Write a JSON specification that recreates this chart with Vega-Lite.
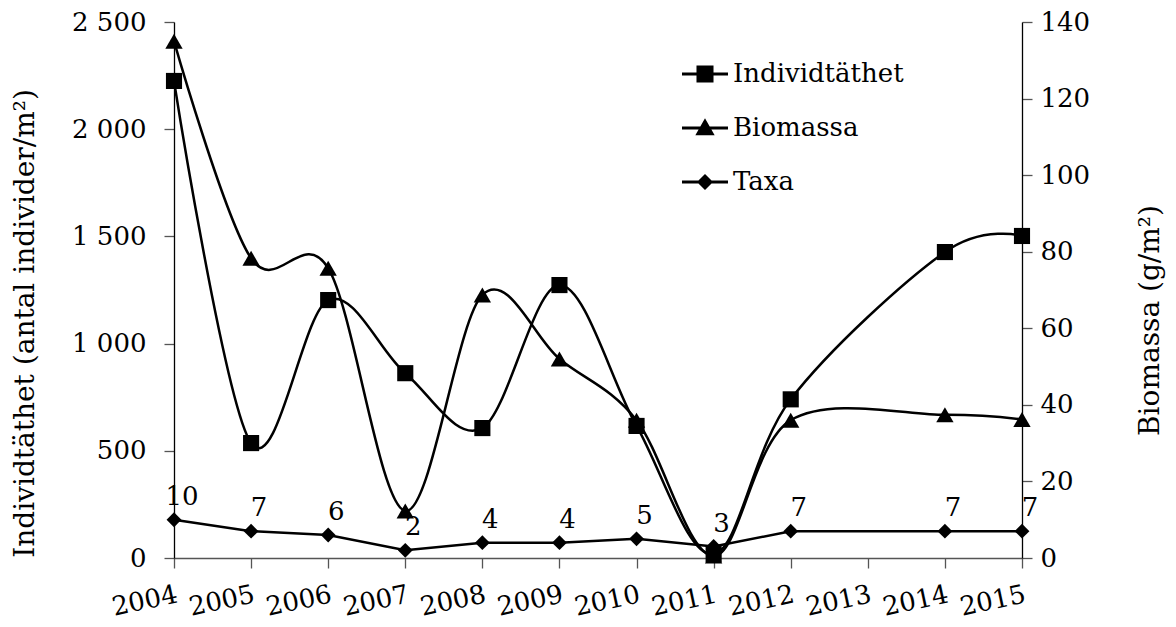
{
  "$schema": "https://vega.github.io/schema/vega-lite/v6.json",
  "width": 848,
  "height": 536,
  "autosize": "none",
  "padding": {"left": 174, "top": 22, "right": 154, "bottom": 69},
  "background": "white",
  "config": {
    "view": {"stroke": null},
    "font": "DejaVu Serif",
    "axis": {"labelFont": "DejaVu Serif", "titleFont": "DejaVu Serif", "labelFontSize": 26, "titleFontSize": 28, "labelColor": "black", "titleColor": "black", "titleFontWeight": "normal", "grid": false, "domainColor": "#555", "tickColor": "#555", "tickSize": 10, "domainWidth": 1.3, "tickWidth": 1.3},
    "legend": {"labelFont": "DejaVu Serif"}
  },
  "data": {
    "values": [
      {"year": 2004, "serie": "Individtäthet", "value": 2225},
      {"year": 2005, "serie": "Individtäthet", "value": 536},
      {"year": 2006, "serie": "Individtäthet", "value": 1203},
      {"year": 2007, "serie": "Individtäthet", "value": 862},
      {"year": 2008, "serie": "Individtäthet", "value": 606},
      {"year": 2009, "serie": "Individtäthet", "value": 1273},
      {"year": 2010, "serie": "Individtäthet", "value": 616},
      {"year": 2011, "serie": "Individtäthet", "value": 18},
      {"year": 2012, "serie": "Individtäthet", "value": 740},
      {"year": 2014, "serie": "Individtäthet", "value": 1427},
      {"year": 2015, "serie": "Individtäthet", "value": 1502},
      {"year": 2004, "serie": "Biomassa", "value": 135},
      {"year": 2005, "serie": "Biomassa", "value": 78.3},
      {"year": 2006, "serie": "Biomassa", "value": 75.7},
      {"year": 2007, "serie": "Biomassa", "value": 12.3},
      {"year": 2008, "serie": "Biomassa", "value": 68.7},
      {"year": 2009, "serie": "Biomassa", "value": 52},
      {"year": 2010, "serie": "Biomassa", "value": 36},
      {"year": 2011, "serie": "Biomassa", "value": 0.5},
      {"year": 2012, "serie": "Biomassa", "value": 36},
      {"year": 2014, "serie": "Biomassa", "value": 37.4},
      {"year": 2015, "serie": "Biomassa", "value": 36.2},
      {"year": 2004, "serie": "Taxa", "value": 10},
      {"year": 2005, "serie": "Taxa", "value": 7},
      {"year": 2006, "serie": "Taxa", "value": 6},
      {"year": 2007, "serie": "Taxa", "value": 2},
      {"year": 2008, "serie": "Taxa", "value": 4},
      {"year": 2009, "serie": "Taxa", "value": 4},
      {"year": 2010, "serie": "Taxa", "value": 5},
      {"year": 2011, "serie": "Taxa", "value": 3},
      {"year": 2012, "serie": "Taxa", "value": 7},
      {"year": 2014, "serie": "Taxa", "value": 7},
      {"year": 2015, "serie": "Taxa", "value": 7}
    ]
  },
  "encoding": {
    "x": {
      "field": "year", "type": "quantitative",
      "scale": {"domain": [2004, 2015], "nice": false, "zero": false},
      "axis": {"title": null, "values": [2004, 2005, 2006, 2007, 2008, 2009, 2010, 2011, 2012, 2013, 2014, 2015], "format": "d", "labelAngle": -12, "labelAlign": "right", "labelBaseline": "top", "labelPadding": 13, "labelOverlap": false, "labelFlush": false}
    }
  },
  "layer": [
    {
      "transform": [{"filter": "datum.serie === 'Individtäthet'"}],
      "encoding": {
        "y": {
          "field": "value", "type": "quantitative",
          "scale": {"domain": [0, 2500], "nice": false},
          "axis": {"orient": "left", "title": "Individtäthet (antal individer/m²)", "values": [0, 500, 1000, 1500, 2000, 2500], "labelExpr": "replace(format(datum.value, ','), ',', ' ')", "titleX": -149, "titleY": 301, "titleAngle": -90, "titleAlign": "center", "titleBaseline": "middle", "labelPadding": 18, "domainColor": "black"}
        }
      },
      "layer": [
        {"mark": {"type": "line", "interpolate": "cardinal", "tension": 0, "color": "black", "strokeWidth": 2.5}},
        {
          "mark": {"type": "point", "filled": true, "color": "black", "opacity": 1},
          "encoding": {
            "shape": {
              "field": "serie", "type": "nominal",
              "scale": {"domain": ["Individtäthet", "Biomassa", "Taxa"], "range": ["square", "triangle-up", "diamond"]},
              "legend": null
            },
            "size": {"value": 260}
          }
        }
      ]
    },
    {
      "encoding": {
        "y": {
          "field": "value", "type": "quantitative",
          "scale": {"domain": [0, 140], "nice": false},
          "axis": {"orient": "right", "title": "Biomassa (g/m²)", "titleX": 128, "titleY": 298, "titleAngle": -90, "titleAlign": "center", "titleBaseline": "middle", "values": [0, 20, 40, 60, 80, 100, 120, 140], "labelPadding": 8, "domainColor": "black"}
        }
      },
      "layer": [
        {
          "transform": [{"filter": "datum.serie === 'Biomassa'"}],
          "mark": {"type": "line", "interpolate": "cardinal", "tension": 0, "color": "black", "strokeWidth": 2.5}
        },
        {
          "transform": [{"filter": "datum.serie === 'Taxa'"}],
          "mark": {"type": "line", "color": "black", "strokeWidth": 2.5}
        },
        {
          "transform": [{"filter": "datum.serie !== 'Individtäthet'"}],
          "mark": {"type": "point", "filled": true, "color": "black", "opacity": 1},
          "encoding": {
            "shape": {
              "field": "serie", "type": "nominal",
              "scale": {"domain": ["Individtäthet", "Biomassa", "Taxa"], "range": ["square", "triangle-up", "diamond"]},
              "legend": null
            },
            "size": {"condition": {"test": "datum.serie === 'Taxa'", "value": 220}, "value": 300}
          }
        },
        {
          "transform": [{"filter": "datum.serie === 'Taxa'"}],
          "mark": {"type": "text", "font": "DejaVu Serif", "fontSize": 26, "color": "black", "align": "center", "baseline": "alphabetic", "dx": 8, "dy": -15},
          "encoding": {"text": {"field": "value", "type": "quantitative", "format": "d"}}
        }
      ]
    },
    {
      "transform": [{"filter": "datum.year > 3000"}],
      "mark": {"type": "point", "filled": true, "color": "black"},
      "encoding": {
        "y": {"field": "value", "type": "quantitative", "axis": null},
        "shape": {
          "field": "serie", "type": "nominal",
          "scale": {"domain": ["Individtäthet", "Biomassa", "Taxa"], "range": ["M-1,-0.06H1V0.06H-1Z M-0.37,-0.37H0.37V0.37H-0.37Z", "M-1,-0.06H1V0.06H-1Z M0,-0.42L0.42,0.32H-0.42Z", "M-1,-0.06H1V0.06H-1Z M0,-0.35L0.35,0L0,0.35L-0.35,0Z"]},
          "legend": {
            "title": null, "orient": "none", "legendX": 508, "legendY": 29, "padding": 0,
            "symbolSize": 2116, "symbolStrokeWidth": 0, "symbolFillColor": "black", "symbolOpacity": 1,
            "labelFontSize": 26, "labelColor": "black", "labelOffset": 5, "labelLimit": 400, "rowPadding": 18
          }
        }
      }
    }
  ],
  "resolve": {"scale": {"y": "independent", "shape": "independent"}}
}
